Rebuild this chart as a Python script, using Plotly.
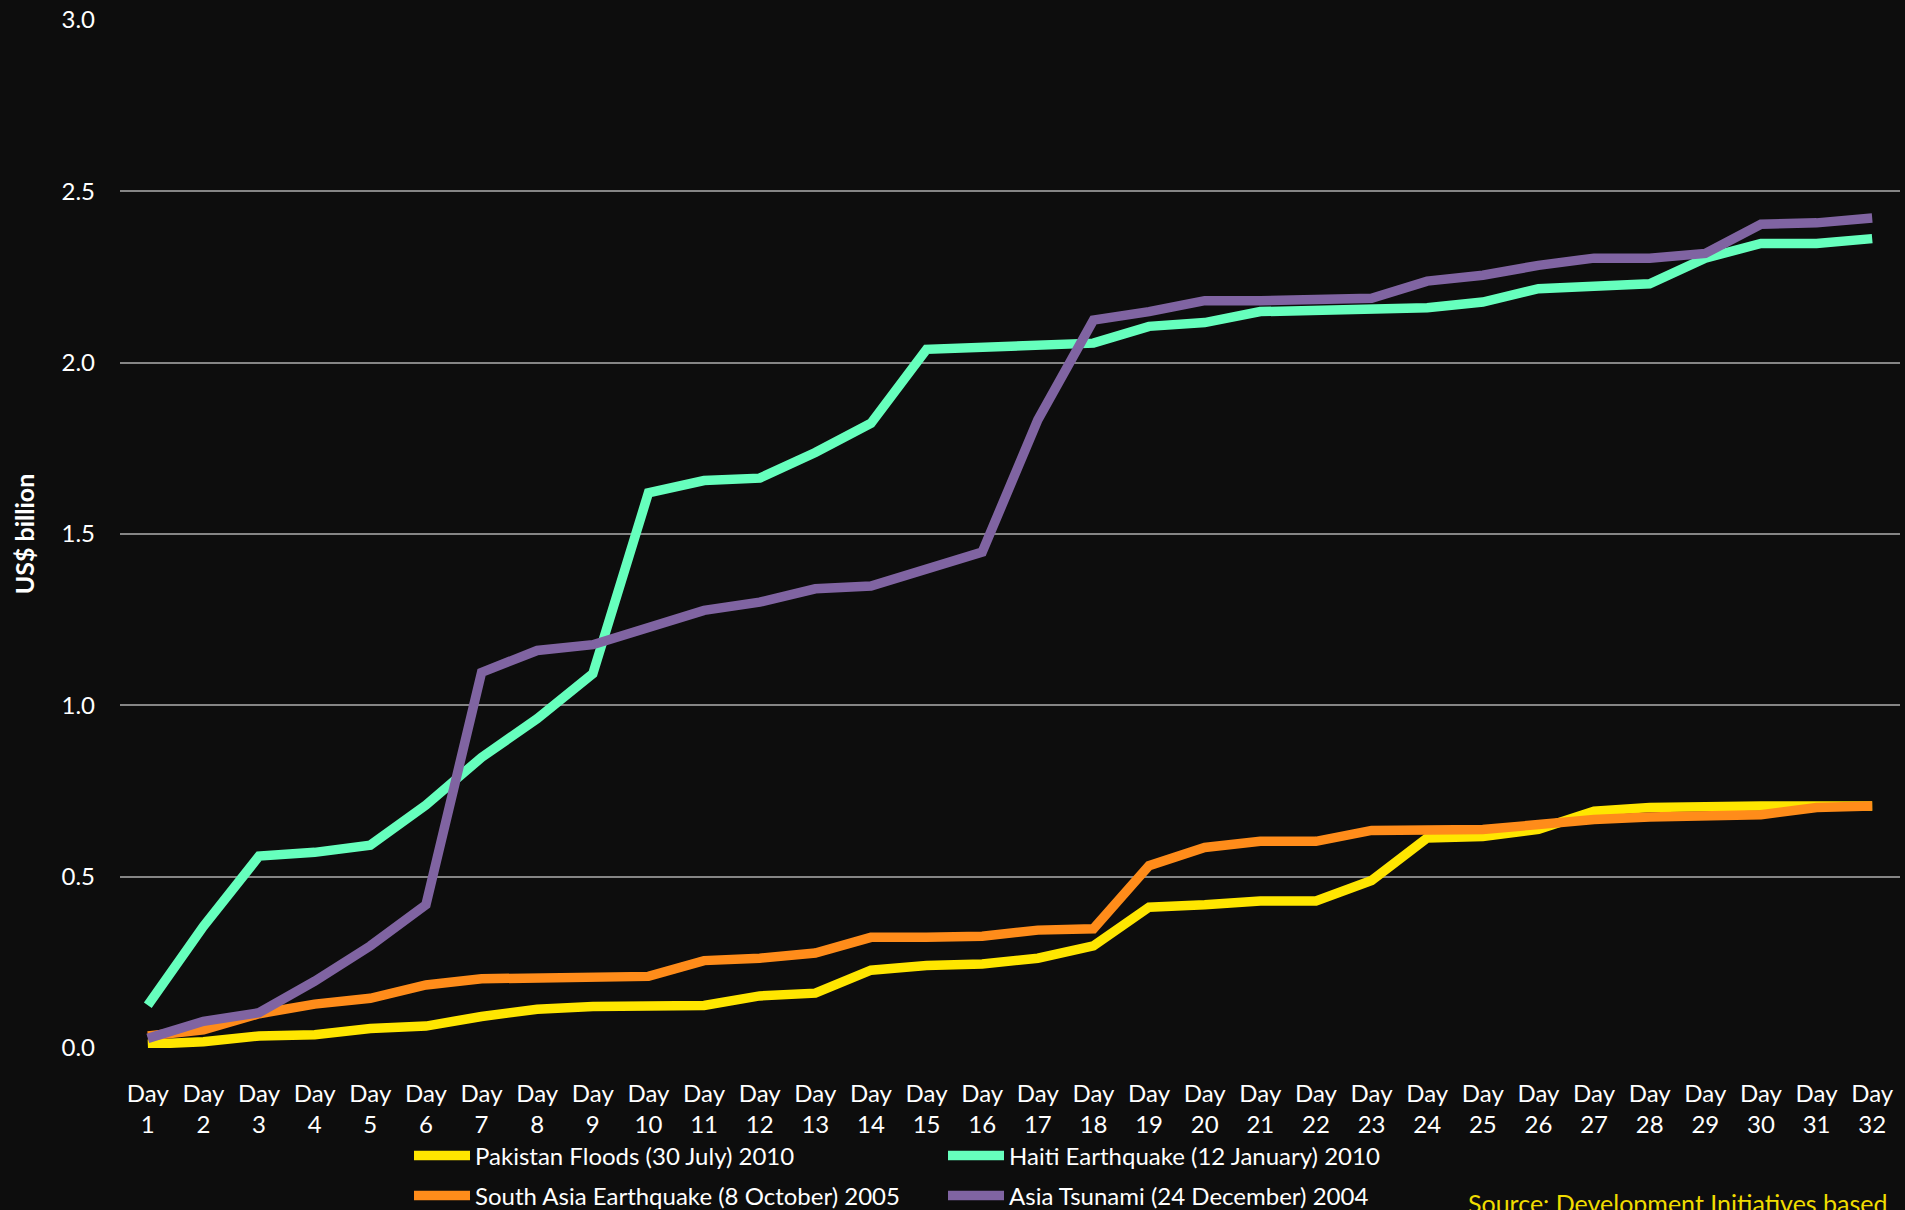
import plotly.graph_objects as go

days = [f"Day<br>{i}" for i in range(1, 33)]

pakistan = [0.011, 0.018, 0.035, 0.039, 0.057, 0.064, 0.092, 0.113, 0.121, 0.121, 0.124, 0.152,
            0.160, 0.227, 0.241, 0.245, 0.262, 0.298, 0.411, 0.418, 0.429, 0.429, 0.489, 0.613,
            0.617, 0.638, 0.691, 0.702, 0.706, 0.706, 0.706, 0.706]
haiti = [0.125, 0.355, 0.560, 0.571, 0.592, 0.709, 0.848, 0.961, 1.092, 1.620, 1.656, 1.663,
         1.738, 1.823, 2.039, 2.043, 2.053, 2.057, 2.106, 2.117, 2.149, 2.152, 2.160, 2.160,
         2.177, 2.216, 2.223, 2.230, 2.305, 2.348, 2.348, 2.362]
south_asia = [0.035, 0.053, 0.100, 0.128, 0.145, 0.184, 0.202, 0.206, 0.206, 0.209, 0.255, 0.262,
              0.277, 0.323, 0.323, 0.326, 0.344, 0.348, 0.532, 0.585, 0.603, 0.603, 0.635, 0.635,
              0.638, 0.652, 0.667, 0.674, 0.677, 0.681, 0.702, 0.706]
tsunami = [0.028, 0.078, 0.103, 0.195, 0.298, 0.418, 1.096, 1.160, 1.177, 1.230, 1.277, 1.301,
           1.340, 1.348, 1.394, 1.447, 1.833, 2.124, 2.149, 2.181, 2.181, 2.184, 2.188, 2.238,
           2.255, 2.284, 2.305, 2.305, 2.319, 2.404, 2.408, 2.422]

series_names = ["Pakistan Floods (30 July) 2010", "Haiti Earthquake (12 January) 2010",
                "South Asia Earthquake (8 October) 2005", "Asia Tsunami (24 December) 2004"]
series_values = [pakistan, haiti, south_asia, tsunami]
colors = ["#FFE600", "#66FFBD", "#FF8C1A", "#8064A2"]
legend_ids = ["legend", "legend2", "legend3", "legend4"]

y_ticks = [0.0, 0.5, 1.0, 1.5, 2.0, 2.5, 3.0]
y_ticktext = ["0.0", "0.5", "1.0", "1.5", "2.0", "2.5", "3.0"]

FONT = "Lato, Carlito, Calibri, sans-serif"
BG = "#0D0D0D"
W, H = 1905, 1210
ML, MR, MT, MB = 120, 5, 20, 162
PW, PH = W - ML - MR, H - MT - MB


def px_x(px):
    return (px - ML) / PW


def px_y(py):
    return (H - MB - py) / PH


fig = go.Figure()
for name, vals, col, lg in zip(series_names, series_values, colors, legend_ids):
    fig.add_trace(go.Scatter(
        x=days, y=vals, name=name, mode="lines",
        line=dict(color=col, width=9.5),
        legend=lg,
    ))

leg_common = dict(
    bgcolor="rgba(0,0,0,0)", borderwidth=0,
    font=dict(family=FONT, size=24, color="#FFFFFF"),
    xanchor="left", yanchor="middle", itemwidth=56,
    orientation="v",
)
leg_pos = {
    "legend": (409, 1156),
    "legend2": (943, 1156),
    "legend3": (409, 1196),
    "legend4": (943, 1196),
}
layout_legends = {}
for k, (lx, ly) in leg_pos.items():
    layout_legends[k] = dict(x=px_x(lx), y=px_y(ly), **leg_common)

fig.update_layout(
    width=W, height=H,
    margin=dict(l=ML, r=MR, t=MT, b=MB, autoexpand=False),
    paper_bgcolor=BG,
    plot_bgcolor=BG,
    font=dict(family=FONT, size=24, color="#FFFFFF"),
    showlegend=True,
    xaxis=dict(
        type="category", range=[-0.5, 31.5],
        showgrid=False, zeroline=False, showline=False,
        ticks="outside", ticklen=0, tickcolor="rgba(0,0,0,0)",
        tickfont=dict(family=FONT, size=24, color="#FFFFFF"),
        ticklabelstandoff=24,
        tickangle=0,
        fixedrange=True,
    ),
    yaxis=dict(
        range=[0, 3.0], tickvals=y_ticks, ticktext=y_ticktext,
        showgrid=True, gridcolor="#858585", gridwidth=2,
        zeroline=False, showline=False,
        ticks="", ticklabelstandoff=24,
        tickfont=dict(family=FONT, size=24, color="#FFFFFF"),
        title=dict(text="<b>US$ billion</b>", standoff=19,
                   font=dict(family=FONT, size=25, color="#FFFFFF")),
        fixedrange=True,
    ),
    annotations=[dict(
        text="Source: Development Initiatives based",
        xref="paper", yref="paper", x=px_x(1890), y=px_y(1186),
        xanchor="right", yanchor="top", showarrow=False,
        font=dict(family=FONT, size=25, color="#F0DC00"),
    )],
    **layout_legends,
)

fig.write_html(
    "out.html",
    config={"displayModeBar": False},
    post_script=(
        "document.body.style.margin='0';"
        "document.body.style.padding='0';"
        "document.body.style.background='" + BG + "';"
        "document.body.style.overflow='hidden';"
    ),
)
